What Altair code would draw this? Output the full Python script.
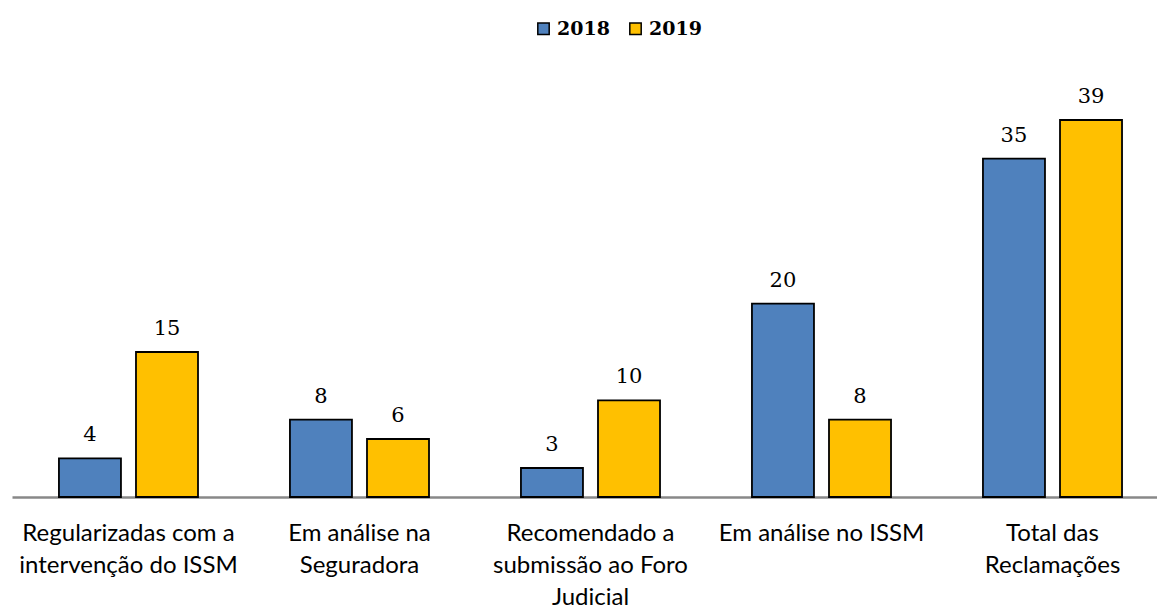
import altair as alt
import pandas as pd

categories = [
    "Regularizadas com a|intervenção do  ISSM",
    "Em análise na|Seguradora",
    "Recomendado a|submissão ao Foro|Judicial",
    "Em análise no ISSM",
    "Total das|Reclamações",
]
series = ["2018", "2019"]
values_2018 = [4, 8, 3, 20, 35]
values_2019 = [15, 6, 10, 8, 39]

rows = []
for c, a, b in zip(categories, values_2018, values_2019):
    rows.append({"cat": c, "year": "2018", "value": a})
    rows.append({"cat": c, "year": "2019", "value": b})
df = pd.DataFrame(rows)

x = alt.X("cat:N", sort=categories, title=None,
          scale=alt.Scale(paddingInner=0.398, paddingOuter=0.1773, align=0.573),
          axis=alt.Axis(labelExpr="split(datum.label, '|')", labelAngle=0,
                        labelFont="Lato", labelFontSize=24, labelColor="#000000",
                        labelLineHeight=32, labelPadding=24, ticks=False,
                        domainColor="#888888", domainWidth=2.5, labelLimit=400))
xo = alt.XOffset("year:N", sort=series, scale=alt.Scale(paddingInner=0.195, paddingOuter=0))
y = alt.Y("value:Q", scale=alt.Scale(domain=[0, 45], nice=False), axis=None)
color = alt.Color("year:N", sort=series,
                  scale=alt.Scale(domain=series, range=["#4F81BD", "#FFC000"]),
                  legend=alt.Legend(title=None, orient="none", direction="horizontal",
                                    legendX=522, legendY=-43, symbolType="square",
                                    symbolSize=130, symbolStrokeColor="#000000",
                                    symbolStrokeWidth=1.5, labelFont="DejaVu Serif",
                                    labelFontSize=19, labelFontWeight="bold",
                                    labelColor="#000000", columnPadding=16, labelOffset=4))

bars = alt.Chart(df).mark_bar(stroke="#000000", strokeWidth=1.8).encode(
    x=x, xOffset=xo, y=y, color=color
)
labels = alt.Chart(df).mark_text(baseline="bottom", dy=-13, font="DejaVu Serif",
                                 fontSize=21, color="#000000").encode(
    x=alt.X("cat:N", sort=categories), xOffset=alt.XOffset("year:N", sort=series),
    y="value:Q", text="value:Q"
)

chart = (bars + labels).properties(
    width=1145, height=435,
    background="#ffffff",
    autosize=alt.AutoSizeParams(type="none"),
    padding={"left": 12, "top": 62, "right": 0, "bottom": 111},
).configure_view(stroke=None)

chart.save("out.html", embed_options={"renderer": "svg", "actions": False})
